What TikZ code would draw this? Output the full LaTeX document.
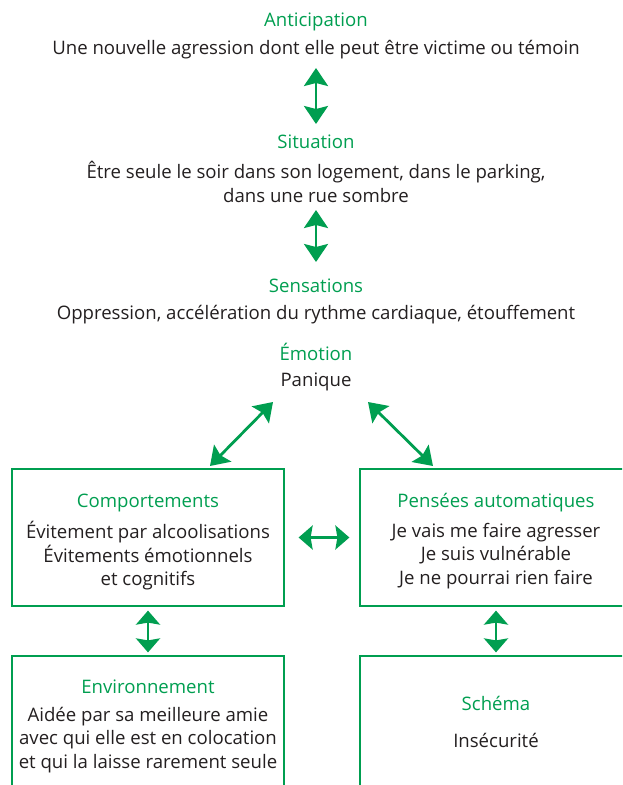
\documentclass[tikz,border=0pt]{standalone}
\usepackage{fontspec}
\setmainfont{Open Sans}
\usetikzlibrary{arrows.meta}
\definecolor{vert}{RGB}{0,158,80}
\definecolor{encre}{RGB}{35,31,32}
\begin{document}
\begin{tikzpicture}[x=1pt, y=-1pt, font=\fontsize{18.6}{23.5}\selectfont,
  titre/.style={text=vert, inner sep=0pt},
  texte/.style={text=encre, align=center, inner sep=0pt},
  cadre/.style={draw=vert, line width=1.2pt, minimum width=272pt, inner sep=0pt},
  fleche/.style={draw=vert, line width=2.8pt,
    {Stealth[length=18pt,width=24pt,inset=3pt]}-{Stealth[length=18pt,width=24pt,inset=3pt]}},
  courte/.style={draw=vert, line width=2.8pt,
    {Stealth[length=14pt,width=24pt,inset=2pt]}-{Stealth[length=14pt,width=24pt,inset=2pt]}}]
\useasboundingbox (0,0) rectangle (622,785);
\clip (0,0) rectangle (622,785);
% Chaine du haut
\node[titre] (anticipation) at (316,22) {Anticipation};
\node[texte] (nouvelle) at (316,50) {Une nouvelle agression dont elle peut être victime ou témoin};
\node[titre] (situation) at (316,142) {Situation};
\node[texte] (seule) at (316,182) {Être seule le soir dans son logement, dans le parking,\\dans une rue sombre};
\node[titre] (sensations) at (316,286) {Sensations};
\node[texte] (oppression) at (316,315) {Oppression, accélération du rythme cardiaque, étouffement};
\node[titre] (emotion) at (316,352) {Émotion};
\node[texte] (panique) at (316,382) {Panique};
% Cadres
\node[cadre, minimum height=137pt] (comport) at (148,537.5) {};
\node[cadre, minimum height=137pt] (pensees) at (496,537.5) {};
\node[cadre, minimum height=140pt] (environ) at (148,726) {};
\node[cadre, minimum height=140pt] (schema) at (496,726) {};
% Textes des cadres
\node[titre] (t-comport) at (148,503) {Comportements};
\node[texte] (l-comport) at (148,556) {Évitement par alcoolisations\\Évitements émotionnels\\et cognitifs};
\node[titre] (t-pensees) at (496,503) {Pensées automatiques};
\node[texte] (l-pensees) at (496,556) {Je vais me faire agresser\\Je suis vulnérable\\Je ne pourrai rien faire};
\node[titre] (t-environ) at (148,687) {Environnement};
\node[texte] (l-environ) at (148,740) {Aidée par sa meilleure amie\\avec qui elle est en colocation\\et qui la laisse rarement seule};
\node[titre] (t-schema) at (496,703) {Schéma};
\node[texte] (l-schema) at (496,740) {Insécurité};
% Extremites des fleches
\coordinate (a1) at (316,68);  \coordinate (a2) at (316,124);
\coordinate (b1) at (316,210); \coordinate (b2) at (316,262);
\coordinate (c1) at (273,402); \coordinate (c2) at (210,466);
\coordinate (d1) at (368,402); \coordinate (d2) at (433,466);
% Fleches
\draw[fleche] (a1) -- (a2);
\draw[fleche] (b1) -- (b2);
\draw[fleche] (c1) -- (c2);
\draw[fleche] (d1) -- (d2);
\draw[courte, shorten <=14pt, shorten >=10pt] (comport.east) -- (pensees.west);
\draw[courte, shorten <=4pt, shorten >=3pt] (comport.south) -- (environ.north);
\draw[courte, shorten <=4pt, shorten >=3pt] (pensees.south) -- (schema.north);
\end{tikzpicture}
\end{document}
